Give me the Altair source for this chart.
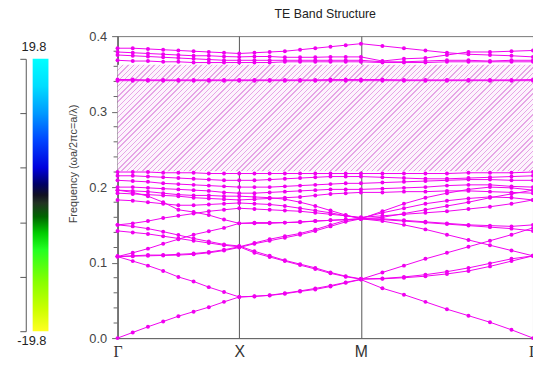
import altair as alt
import pandas as pd

# ---------------- data ----------------
k_labels = ["Γ", "X", "M", "Γ"]
k_label_pos = [0.0, 1.0, 2.0, 3.4142]
k_path = [0.0, 0.125, 0.25, 0.375, 0.5, 0.625, 0.75, 0.875, 1.0,
          1.125, 1.25, 1.375, 1.5, 1.625, 1.75, 1.875, 2.0,
          2.1768, 2.3536, 2.5303, 2.7071, 2.8839, 3.0607, 3.2374, 3.4142]

band_01 = [0.000, 0.0075, 0.015, 0.022, 0.029, 0.035, 0.041, 0.048, 0.0545,
           0.0555, 0.0565, 0.0588, 0.0618, 0.0645, 0.0684, 0.0732, 0.0775,
           0.066, 0.0575, 0.048, 0.0383, 0.0297, 0.021, 0.011, 0.000]
band_02 = [0.108, 0.102, 0.096, 0.089, 0.081, 0.075, 0.0675, 0.061, 0.0545,
           0.0552, 0.0568, 0.0595, 0.0625, 0.0658, 0.0695, 0.0738, 0.078,
           0.0785, 0.080, 0.082, 0.085, 0.089, 0.095, 0.102, 0.109]
band_03 = [0.108, 0.109, 0.110, 0.110, 0.111, 0.112, 0.114, 0.117, 0.121,
           0.113, 0.1075, 0.102, 0.0967, 0.0915, 0.0858, 0.0814, 0.078,
           0.087, 0.096, 0.105, 0.113, 0.121, 0.129, 0.137, 0.146]
band_04 = [0.108, 0.113, 0.1185, 0.125, 0.131, 0.137, 0.1415, 0.146, 0.152,
           0.153, 0.153, 0.153, 0.1535, 0.155, 0.156, 0.157, 0.158,
           0.155, 0.150, 0.144, 0.137, 0.130, 0.123, 0.116, 0.109]
band_05 = [0.142, 0.140, 0.138, 0.135, 0.132, 0.129, 0.126, 0.123, 0.121,
           0.126, 0.131, 0.135, 0.1386, 0.1438, 0.150, 0.156, 0.158,
           0.157, 0.155, 0.153, 0.151, 0.149, 0.147, 0.145, 0.142]
band_06 = [0.150, 0.148, 0.145, 0.141, 0.1365, 0.132, 0.128, 0.124, 0.122,
           0.115, 0.109, 0.103, 0.098, 0.093, 0.087, 0.082, 0.0785,
           0.079, 0.081, 0.084, 0.088, 0.093, 0.099, 0.105, 0.109]
band_07 = [0.150, 0.152, 0.155, 0.159, 0.162, 0.165, 0.168, 0.170, 0.172,
           0.171, 0.170, 0.169, 0.168, 0.166, 0.164, 0.162, 0.160,
           0.162, 0.164, 0.166, 0.168, 0.171, 0.174, 0.178, 0.183]
band_08 = [0.196, 0.193, 0.188, 0.180, 0.170, 0.167, 0.163, 0.157, 0.152,
           0.152, 0.152, 0.153, 0.154, 0.155, 0.156, 0.157, 0.158,
           0.160, 0.165, 0.170, 0.175, 0.180, 0.186, 0.191, 0.196]
band_09 = [0.108, 0.1085, 0.109, 0.1095, 0.110, 0.111, 0.113, 0.116, 0.120,
           0.125, 0.129, 0.133, 0.137, 0.142, 0.148, 0.154, 0.158,
           0.158, 0.156, 0.154, 0.152, 0.150, 0.149, 0.148, 0.150]
band_10 = [0.183, 0.182, 0.180, 0.178, 0.176, 0.176, 0.177, 0.178, 0.179,
           0.178, 0.177, 0.175, 0.172, 0.169, 0.166, 0.162, 0.159,
           0.166, 0.172, 0.178, 0.182, 0.185, 0.187, 0.186, 0.183]
band_11 = [0.192, 0.191, 0.190, 0.189, 0.188, 0.186, 0.185, 0.184, 0.183,
           0.184, 0.185, 0.186, 0.187, 0.189, 0.191, 0.192, 0.193,
           0.193, 0.194, 0.194, 0.195, 0.195, 0.194, 0.193, 0.192]
band_12 = [0.200, 0.200, 0.199, 0.198, 0.197, 0.196, 0.195, 0.193, 0.192,
           0.192, 0.193, 0.194, 0.195, 0.196, 0.197, 0.197, 0.197,
           0.198, 0.199, 0.200, 0.202, 0.203, 0.203, 0.201, 0.200]
band_13 = [0.209, 0.208, 0.207, 0.205, 0.204, 0.203, 0.202, 0.201, 0.200,
           0.200, 0.200, 0.201, 0.202, 0.203, 0.204, 0.205, 0.205,
           0.206, 0.207, 0.208, 0.209, 0.210, 0.210, 0.209, 0.209]
band_14 = [0.215, 0.215, 0.214, 0.213, 0.212, 0.211, 0.210, 0.209, 0.209,
           0.209, 0.210, 0.211, 0.212, 0.213, 0.214, 0.214, 0.214,
           0.213, 0.212, 0.211, 0.211, 0.212, 0.213, 0.214, 0.215]
band_15 = [0.220, 0.220, 0.220, 0.219, 0.219, 0.219, 0.218, 0.218, 0.218,
           0.218, 0.218, 0.218, 0.218, 0.218, 0.218, 0.218, 0.218,
           0.218, 0.218, 0.218, 0.218, 0.219, 0.219, 0.219, 0.220]
band_16 = [0.196, 0.195, 0.194, 0.192, 0.190, 0.189, 0.189, 0.188, 0.188,
           0.187, 0.186, 0.184, 0.180, 0.175, 0.169, 0.163, 0.158,
           0.168, 0.178, 0.186, 0.192, 0.197, 0.200, 0.199, 0.196]
band_17 = [0.384, 0.384, 0.383, 0.382, 0.381, 0.380, 0.379, 0.378, 0.377,
           0.378, 0.379, 0.380, 0.382, 0.384, 0.386, 0.388, 0.390,
           0.387, 0.384, 0.381, 0.378, 0.376, 0.375, 0.374, 0.3725]
band_18 = [0.379, 0.378, 0.377, 0.376, 0.375, 0.374, 0.374, 0.373, 0.3725,
           0.373, 0.373, 0.372, 0.372, 0.372, 0.3725, 0.3725, 0.3725,
           0.367, 0.370, 0.371, 0.375, 0.379, 0.379, 0.380, 0.381]
band_19 = [0.375, 0.374, 0.373, 0.372, 0.371, 0.370, 0.369, 0.368, 0.368,
           0.368, 0.368, 0.368, 0.368, 0.368, 0.368, 0.368, 0.368,
           0.366, 0.366, 0.367, 0.368, 0.368, 0.367, 0.368, 0.368]
band_20 = [0.368, 0.367, 0.367, 0.366, 0.366, 0.365, 0.365, 0.365, 0.365,
           0.365, 0.365, 0.366, 0.366, 0.366, 0.366, 0.366, 0.366,
           0.365, 0.365, 0.365, 0.366, 0.366, 0.366, 0.366, 0.366]
band_21 = [0.341, 0.341, 0.341, 0.341, 0.341, 0.341, 0.341, 0.341, 0.341,
           0.341, 0.341, 0.341, 0.341, 0.341, 0.341, 0.341, 0.341,
           0.341, 0.341, 0.341, 0.341, 0.341, 0.341, 0.341, 0.341]
band_22 = [0.3425, 0.3425, 0.342, 0.342, 0.342, 0.342, 0.342, 0.342, 0.342,
           0.342, 0.342, 0.342, 0.342, 0.342, 0.3425, 0.3425, 0.3425,
           0.3425, 0.342, 0.342, 0.342, 0.342, 0.342, 0.342, 0.3425]

bands = [band_01, band_02, band_03, band_04, band_05, band_06, band_07, band_08,
         band_09, band_10, band_11, band_12, band_13, band_14, band_15, band_16,
         band_17, band_18, band_19, band_20, band_21, band_22]

gap_lo, gap_hi = 0.221, 0.362
cb_min, cb_max = -19.8, 19.8
cb_ticks = [-19.8, -15.84, -11.88, -7.92, -3.96, 0.0, 3.96, 7.92, 11.88, 15.84, 19.8]
y_major = [0.0, 0.1, 0.2, 0.3, 0.4]
y_minor = [0.02, 0.04, 0.06, 0.08, 0.12, 0.14, 0.16, 0.18,
           0.22, 0.24, 0.26, 0.28, 0.32, 0.34, 0.36, 0.38]

rows = []
for b, vals in enumerate(bands):
    for k, f in zip(k_path, vals):
        rows.append({"band": b, "k": k, "freq": f})
df = pd.DataFrame(rows)

gap_df = pd.DataFrame({"k0": [k_path[0]], "k1": [k_path[-1]], "f0": [gap_lo], "f1": [gap_hi]})
minor_df = pd.DataFrame({"v": y_minor})
cb_df = pd.DataFrame({"lo": [cb_min], "hi": [cb_max]})
cb_top = pd.DataFrame({"v": [cb_max], "t": [f"{cb_max:.1f}"]})
cb_bot = pd.DataFrame({"v": [cb_min], "t": [f"{cb_min:.1f}"]})

# ---------------- styles ----------------
W, H = 421, 306
MAG = "#f000f0"

# hatch stripes as a striped linear gradient (45 degree lines in pixel space)
hatch_h = (gap_hi - gap_lo) / 0.4 * H
r = hatch_h / W
kk = (1 + r) / (1 + r * r)
N = 100
line_c, bg_c = "#e6a6e6", "#fdf4fd"
stops = []
for n in range(N):
    a = n / N
    b = (n + 0.26) / N
    c = (n + 1) / N
    stops += [alt.GradientStop(offset=a, color=line_c),
              alt.GradientStop(offset=b, color=line_c),
              alt.GradientStop(offset=b, color=bg_c),
              alt.GradientStop(offset=c, color=bg_c)]
hatch_grad = alt.LinearGradient(gradient="linear", stops=stops,
                                x1=0, y1=0, x2=kk, y2=kk * r)

cb_grad = alt.LinearGradient(
    gradient="linear", x1=0, y1=0, x2=0, y2=1,
    stops=[alt.GradientStop(offset=o, color=c) for o, c in [
        (0.00, "#00ffff"), (0.10, "#00ddff"), (0.20, "#0099ff"), (0.30, "#0044ff"),
        (0.40, "#0000dd"), (0.46, "#000066"), (0.50, "#111122"), (0.53, "#223322"),
        (0.58, "#006600"), (0.64, "#00cc00"), (0.70, "#22ff22"), (0.82, "#88ff00"),
        (0.92, "#ccff00"), (1.00, "#ffff22")]])

xs = alt.Scale(domain=[k_path[0], k_path[-1]], nice=False, zero=False)
ys = alt.Scale(domain=[0, 0.4], nice=False, zero=True)

label_expr = " : ".join(
    [f"abs(datum.value - {p}) < 0.01 ? '{l}'" for p, l in zip(k_label_pos, k_labels)]
) + " : ''"

x_axis = alt.Axis(values=k_label_pos, labelExpr=label_expr, title=None,
                  grid=True, gridColor="#555", gridOpacity=1, gridWidth=1,
                  ticks=False, tickSize=0, domainColor="#666",
                  labelFontSize=16, labelColor="#333", labelPadding=6,
                  labelFlush=False, labelOverlap=False, labelBound=False,
                  labelFont={"condition": {"test": "datum.value < 0.5 || datum.value > 3",
                                           "value": "Liberation Serif"},
                             "value": "Liberation Sans"})

y_axis = alt.Axis(values=y_major, format=".1f",
                  tickSize=6, tickColor="#666", domainColor="#666", grid=False,
                  labelFontSize=13, labelColor="#444", labelPadding=5,
                  labelOverlap=False, labelFlush=False,
                  title="Frequency (ωa/2πc=a/λ)", titleFontSize=11,
                  titleFontWeight="normal", titleColor="#444",
                  titleX=-40, titleY=129, titleAngle=-90, titleBaseline="bottom")

base = alt.Chart(df)

hatch = alt.Chart(gap_df).mark_rect(fill=hatch_grad).encode(
    x=alt.X("k0:Q", scale=xs, axis=x_axis), x2="k1:Q",
    y=alt.Y("f0:Q", scale=ys, axis=y_axis), y2="f1:Q")

minor = alt.Chart(minor_df).mark_rule(color="#666", strokeWidth=1).encode(
    y=alt.Y("v:Q", scale=ys), x=alt.value(-4), x2=alt.value(0))

lines = base.mark_line(color=MAG, strokeWidth=1, clip=True).encode(
    x=alt.X("k:Q", scale=xs), y=alt.Y("freq:Q", scale=ys),
    detail="band:N")

points = base.mark_circle(color=MAG, size=16, opacity=1).encode(
    x=alt.X("k:Q", scale=xs), y=alt.Y("freq:Q", scale=ys))

main = alt.layer(hatch, minor, lines, points)

cbs = alt.Scale(domain=[cb_min, cb_max], range=[299, 23], nice=False, zero=False)
cb_axis = alt.Axis(orient="left", offset=93, values=cb_ticks, labels=False,
                   title=None, grid=False, tickSize=6, tickColor="#555",
                   domainColor="#555")

cb_rect = alt.Chart(cb_df).mark_rect(fill=cb_grad).encode(
    y=alt.Y("lo:Q", scale=cbs, axis=cb_axis), y2="hi:Q",
    x=alt.value(-86), x2=alt.value(-70))

cb_t1 = alt.Chart(cb_top).mark_text(align="right", baseline="middle", dy=-12,
                                     fontSize=13, color="#222").encode(
    y=alt.Y("v:Q", scale=cbs), x=alt.value(-72), text="t:N")
cb_t2 = alt.Chart(cb_bot).mark_text(align="right", baseline="middle", dy=10,
                                     fontSize=13, color="#222").encode(
    y=alt.Y("v:Q", scale=cbs), x=alt.value(-72), text="t:N")

colorbar = alt.layer(cb_rect, cb_t1, cb_t2)

chart = alt.layer(main, colorbar).resolve_scale(y="independent").properties(
    width=W, height=H,
    title=alt.TitleParams("TE Band Structure", fontSize=12.5, fontWeight="normal",
                          color="#222", offset=10, anchor="middle"),
    autosize=alt.AutoSizeParams(type="none"),
    padding={"left": 111, "top": 26, "right": 0, "bottom": 44},
).configure(font="Liberation Sans").configure_view(stroke="#777", strokeWidth=1)

chart.save("out.html", embed_options={"renderer": "svg", "actions": False})
